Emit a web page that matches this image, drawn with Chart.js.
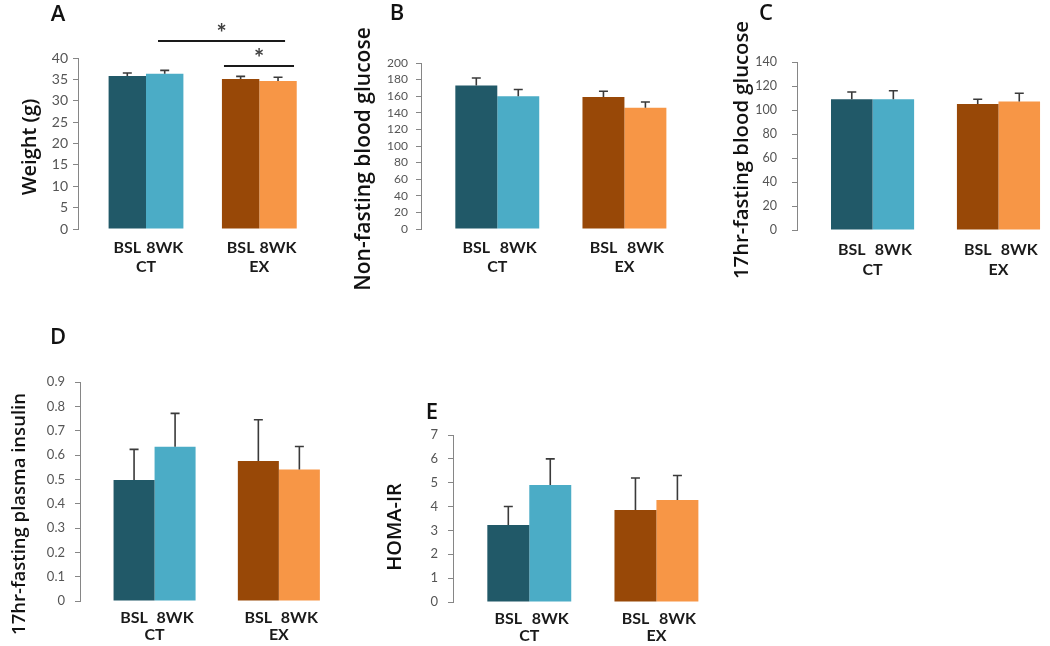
<!DOCTYPE html>
<html>
<head>
<meta charset="utf-8">
<script src="https://cdn.jsdelivr.net/npm/chart.js@4.4.1/dist/chart.umd.min.js"></script>
<style>
  body { margin: 0; background: #fff; width: 1050px; height: 646px; position: relative; overflow: hidden; }
  canvas { position: absolute; }
</style>
</head>
<body>
<canvas id="panelA" style="left:0px;top:0px" width="345" height="290"></canvas>
<canvas id="panelB" style="left:345px;top:0px" width="350" height="290"></canvas>
<canvas id="panelC" style="left:700px;top:0px" width="350" height="290"></canvas>
<canvas id="panelD" style="left:0px;top:320px" width="360" height="326"></canvas>
<canvas id="panelE" style="left:370px;top:400px" width="360" height="246"></canvas>
<script>
const groups = ['CT', 'EX'];
const timepoints = ['BSL', '8WK'];
const colorsBSL = ['#215968', '#984807'];
const colors8WK = ['#4BACC6', '#F79646'];

// A - body weight
const weightBSL = [35.8, 35.1];
const weight8WK = [36.3, 34.6];
const weightErrBSL = [0.7, 0.6];
const weightErr8WK = [0.8, 0.9];

// B - non-fasting glucose
const nfGlucoseBSL = [173, 159];
const nfGlucose8WK = [160, 146];
const nfGlucoseErrBSL = [9, 7];
const nfGlucoseErr8WK = [8, 7];

// C - 17hr fasting glucose
const fGlucoseBSL = [109, 105];
const fGlucose8WK = [109, 107];
const fGlucoseErrBSL = [6, 4];
const fGlucoseErr8WK = [7, 7];

// D - 17hr fasting insulin
const insulinBSL = [0.497, 0.575];
const insulin8WK = [0.634, 0.54];
const insulinErrBSL = [0.126, 0.17];
const insulinErr8WK = [0.137, 0.095];

// E - HOMA-IR
const homaBSL = [3.23, 3.86];
const homa8WK = [4.9, 4.28];
const homaErrBSL = [0.77, 1.34];
const homaErr8WK = [1.1, 1.02];

const catPct = 0.66;

const panels = [
  { id: 'panelA', letter: 'A', title: 'Weight (g)', titleSize: 20, box: [0, 0, 345, 290],
    area: { left: 78, top: 58, right: 316, bottom: 229 }, xMax: 1.5, yMax: 40, step: 5,
    tickSize: 14, tickPad: 5, gap: 19, titleX: 30, titleY: 147, letterX: 58, letterY: 15,
    bsl: weightBSL, wk: weight8WK, errBsl: weightErrBSL, errWk: weightErr8WK,
    sig: [{ from: 0.106, to: 1.227, y: 44 }, { from: 0.688, to: 1.306, y: 38.1 }] },
  { id: 'panelB', letter: 'B', title: 'Non-fasting blood glucose', titleSize: 21, box: [345, 0, 350, 290],
    area: { left: 421, top: 63, right: 688, bottom: 229 }, xMax: 1.5, yMax: 200, step: 20,
    tickSize: 12, tickPad: 8, gap: 19, titleX: 364, titleY: 159, letterX: 397, letterY: 14,
    bsl: nfGlucoseBSL, wk: nfGlucose8WK, errBsl: nfGlucoseErrBSL, errWk: nfGlucoseErr8WK, sig: [] },
  { id: 'panelC', letter: 'C', title: '17hr-fasting blood glucose', titleSize: 20.3, box: [700, 0, 350, 290],
    area: { left: 797, top: 62, right: 1048, bottom: 230 }, xMax: 1.36, yMax: 140, step: 20,
    tickSize: 12.5, tickPad: 15, gap: 20, titleX: 742, titleY: 150, letterX: 766, letterY: 14,
    bsl: fGlucoseBSL, wk: fGlucose8WK, errBsl: fGlucoseErrBSL, errWk: fGlucoseErr8WK, sig: [] },
  { id: 'panelD', letter: 'D', title: '17hr-fasting plasma insulin', titleSize: 18.5, box: [0, 320, 360, 326],
    area: { left: 80, top: 382, right: 341, bottom: 601 }, xMax: 1.5, yMax: 0.9, step: 0.1,
    tickSize: 13, tickPad: 10, gap: 17, titleX: 20, titleY: 514, letterX: 58, letterY: 338,
    bsl: insulinBSL, wk: insulin8WK, errBsl: insulinErrBSL, errWk: insulinErr8WK, sig: [] },
  { id: 'panelE', letter: 'E', title: 'HOMA-IR', titleSize: 20, box: [370, 400, 360, 246],
    area: { left: 453, top: 435, right: 720, bottom: 602 }, xMax: 1.5, yMax: 7, step: 1,
    tickSize: 13, tickPad: 10, gap: 17, titleX: 395, titleY: 527, letterX: 432, letterY: 413,
    bsl: homaBSL, wk: homa8WK, errBsl: homaErrBSL, errWk: homaErr8WK, sig: [] }
];

// upward error bars with a small cap
const errorBars = {
  id: 'errorBars',
  afterDatasetsDraw(chart) {
    const ctx = chart.ctx;
    const y = chart.scales.y;
    chart.data.datasets.forEach((ds, di) => {
      chart.getDatasetMeta(di).data.forEach((bar, i) => {
        const top = y.getPixelForValue(ds.data[i].y + ds.errors[i]);
        ctx.save();
        ctx.strokeStyle = '#3a3a3a';
        ctx.lineWidth = 1.6;
        ctx.beginPath();
        ctx.moveTo(bar.x, bar.y);
        ctx.lineTo(bar.x, top);
        ctx.moveTo(bar.x - 4.5, top);
        ctx.lineTo(bar.x + 4.5, top);
        ctx.stroke();
        ctx.restore();
      });
    });
  }
};

// panel letter, rotated y title and significance bars
const panelText = {
  id: 'panelText',
  afterDraw(chart, args, o) {
    const ctx = chart.ctx;
    ctx.save();
    ctx.fillStyle = '#111';
    ctx.textAlign = 'center';
    ctx.textBaseline = 'middle';
    ctx.font = '600 22px "Open Sans"';
    ctx.fillText(o.letter, o.letterX, o.letterY);

    ctx.translate(o.titleX, o.titleY);
    ctx.rotate(-Math.PI / 2);
    ctx.font = '600 ' + o.titleSize + 'px "Open Sans"';
    ctx.fillText(o.title, 0, 0);
    ctx.restore();

    const xs = chart.scales.x, ys = chart.scales.y;
    o.sig.forEach(s => {
      const x1 = xs.getPixelForValue(s.from);
      const x2 = xs.getPixelForValue(s.to);
      const yy = ys.getPixelForValue(s.y);
      ctx.save();
      ctx.strokeStyle = '#1a1a1a';
      ctx.lineWidth = 2;
      ctx.beginPath();
      ctx.moveTo(x1, yy);
      ctx.lineTo(x2, yy);
      ctx.stroke();
      ctx.fillStyle = '#404040';
      ctx.font = 'bold 24px Lato';
      ctx.textAlign = 'center';
      ctx.textBaseline = 'alphabetic';
      ctx.fillText('*', (x1 + x2) / 2, yy + 1);
      ctx.restore();
    });
  }
};

const q = catPct / 4;

for (const p of panels) {
  const [bx, by, bw, bh] = p.box;
  const xMin = -0.6;
  const labelFont = { family: 'Lato', size: 16, weight: 'bold', lineHeight: 1 };

  new Chart(document.getElementById(p.id), {
    type: 'bar',
    data: {
      datasets: [
        { label: 'BSL', data: p.bsl.map((v, i) => ({ x: i, y: v })), backgroundColor: colorsBSL, errors: p.errBsl },
        { label: '8WK', data: p.wk.map((v, i) => ({ x: i, y: v })), backgroundColor: colors8WK, errors: p.errWk }
      ]
    },
    options: {
      responsive: false,
      animation: false,
      categoryPercentage: catPct,
      barPercentage: 1,
      layout: {
        padding: {
          left: 0,
          top: p.area.top - by,
          right: bw - (p.area.right - bx),
          bottom: Math.max(0, bh - (p.area.bottom - by) - (2 * p.gap + 10))
        }
      },
      plugins: {
        legend: { display: false },
        tooltip: { enabled: false },
        panelText: {
          letter: p.letter, letterX: p.letterX - bx, letterY: p.letterY - by,
          title: p.title, titleSize: p.titleSize, titleX: p.titleX - bx, titleY: p.titleY - by, sig: p.sig
        }
      },
      scales: {
        x: {
          type: 'linear', position: 'bottom', weight: 2, offset: false,
          min: xMin, max: p.xMax,
          grid: { display: false, drawTicks: false },
          border: { display: false },
          afterBuildTicks: s => { s.ticks = groups.map((g, i) => ({ value: i })); },
          afterFit: s => { s.height = p.gap + 2; },
          ticks: {
            autoSkip: false, maxRotation: 0, padding: p.gap - 16,
            color: '#1a1a1a', font: labelFont,
            callback: v => groups[v]
          }
        },
        x2: {
          type: 'linear', axis: 'x', position: 'bottom', weight: 1, offset: false,
          min: xMin, max: p.xMax,
          grid: { display: false, drawTicks: false },
          border: { display: false },
          afterBuildTicks: s => { s.ticks = [-q, q, 1 - q, 1 + q].map(v => ({ value: v })); },
          afterFit: s => { s.height = p.gap + 8; },
          ticks: {
            autoSkip: false, maxRotation: 0, padding: p.gap - 8,
            color: '#1a1a1a', font: labelFont,
            callback: (v, i) => timepoints[i % 2]
          }
        },
        y: {
          min: 0, max: p.yMax,
          afterFit: s => { s.width = p.area.left - bx; },
          grid: { display: true, drawOnChartArea: false, drawTicks: true, tickLength: 5, color: '#868686' },
          border: { display: true, color: '#868686', width: 1 },
          ticks: {
            stepSize: p.step, autoSkip: false, padding: p.tickPad, color: '#555555',
            font: { family: 'Lato', size: p.tickSize, lineHeight: 1 }
          }
        }
      }
    },
    plugins: [errorBars, panelText]
  });
}
</script>
</body>
</html>
